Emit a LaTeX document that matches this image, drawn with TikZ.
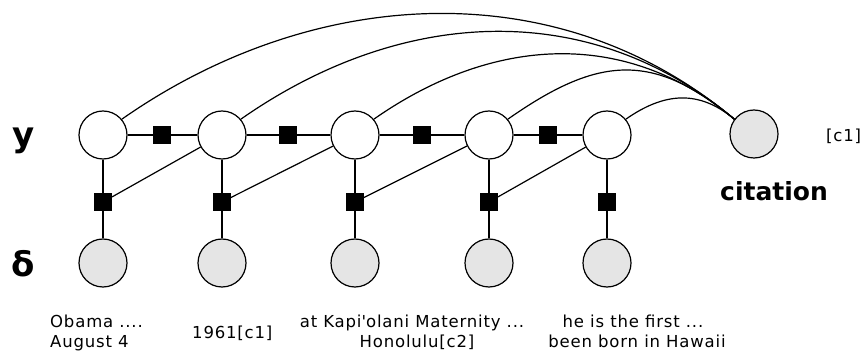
\documentclass[tikz,border=0pt]{standalone}
\usepackage{fontspec}
\setmainfont{DejaVu Sans}
\newfontfamily\lblfont[LetterSpace=5]{DejaVu Sans}
\begin{document}
\begin{tikzpicture}[x=1pt,y=1pt,
  var/.style={circle, draw, line width=1.2pt, minimum size=48pt, inner sep=0pt, fill=white},
  obs/.style={var, fill=gray!20},
  fac/.style={rectangle, fill=black, minimum size=17.5pt, inner sep=0pt},
  edge/.style={line width=1.2pt},
  lbl/.style={font={\lblfont\fontsize{16.5}{21}\selectfont}, inner sep=0pt},
  big/.style={font=\fontsize{34}{40}\selectfont\bfseries, inner sep=0pt},
  cit/.style={font=\fontsize{25}{30}\selectfont\bfseries, inner sep=0pt}]
\useasboundingbox (0,0) rectangle (863,-358);
% y row
\node[var] (y1) at (103,-135) {};
\node[var] (y2) at (222,-135) {};
\node[var] (y3) at (355,-135) {};
\node[var] (y4) at (489,-135) {};
\node[var] (y5) at (607,-135) {};
\node[obs] (c) at (754,-134) {};
% delta row
\node[obs] (d1) at (103,-263) {};
\node[obs] (d2) at (222,-263) {};
\node[obs] (d3) at (355,-263) {};
\node[obs] (d4) at (489,-263) {};
\node[obs] (d5) at (607,-263) {};
% horizontal factors
\node[fac] (h1) at (162,-135) {};
\node[fac] (h2) at (288,-135) {};
\node[fac] (h3) at (422,-135) {};
\node[fac] (h4) at (548,-135) {};
% vertical factors
\node[fac] (v1) at (103,-202) {};
\node[fac] (v2) at (222,-202) {};
\node[fac] (v3) at (355,-202) {};
\node[fac] (v4) at (489,-202) {};
\node[fac] (v5) at (607,-202) {};
% chain edges
\draw[edge] (y1) -- (h1) -- (y2) -- (h2) -- (y3) -- (h3) -- (y4) -- (h4) -- (y5);
\foreach \i in {1,...,5} {\draw[edge] (y\i) -- (v\i) -- (d\i);}
\draw[edge] (y2) -- (v1);
\draw[edge] (y3) -- (v2);
\draw[edge] (y4) -- (v3);
\draw[edge] (y5) -- (v4);
% arcs to citation
\draw[edge] (y1.40) to[out=35,in=140,looseness=0.97] (c.143);
\draw[edge] (y2.40) to[out=35,in=140,looseness=1.0] (c.143);
\draw[edge] (y3.40) to[out=35,in=140,looseness=1.02] (c.143);
\draw[edge] (y4.40) to[out=35,in=140,looseness=1.22] (c.143);
\draw[edge] (y5.40) to[out=35,in=140,looseness=1.1] (c.143);
% labels
\node[big, anchor=base west] (ly) at (12,-147) {y};
\node[big, anchor=base west] (ld) at (11,-277) {δ};
\node[cit, anchor=base west] (lc) at (720,-201) {citation};
\node[lbl, anchor=base west] (lcr) at (826,-142) {[c1]};
\node[lbl, anchor=base west] (t1a) at (50,-327) {Obama ....};
\node[lbl, anchor=base west] (t1b) at (50,-348) {August 4};
\node[lbl, anchor=base west] (t2) at (192,-338) {1961[c1]};
\node[lbl, anchor=base] (t3a) at (412,-327) {at Kapi\textquotesingle olani Maternity ...};
\node[lbl, anchor=base] (t3b) at (417,-348) {Honolulu[c2]};
\node[lbl, anchor=base] (t4a) at (633,-327) {he is the first ...};
\node[lbl, anchor=base] (t4b) at (637,-348) {been born in Hawaii};
\end{tikzpicture}
\end{document}
